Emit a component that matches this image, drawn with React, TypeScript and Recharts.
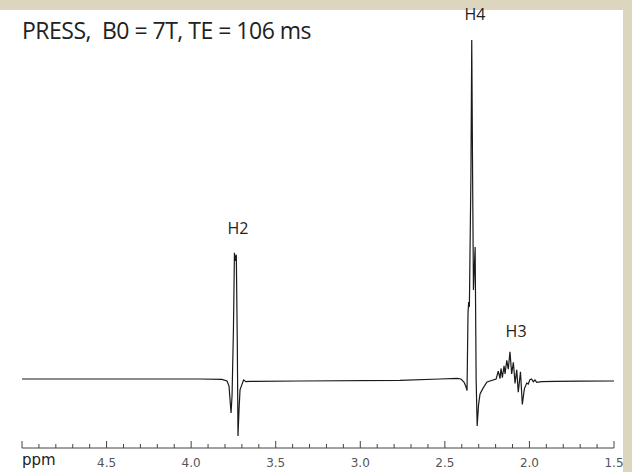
import { LineChart, Line, XAxis, YAxis, ReferenceDot } from "recharts";

// spectrum: chemical shift (ppm) and signal (H4 top = 100)
const PPM = [
  5.0, 3.948, 3.818, 3.788, 3.776, 3.77, 3.764, 3.758, 3.75, 3.744, 3.738, 3.733,
  3.727, 3.723, 3.717, 3.711, 3.699, 3.69, 3.676, 3.652, 3.356, 2.765, 2.529, 2.428,
  2.405, 2.387, 2.375, 2.369, 2.363, 2.359, 2.355, 2.346, 2.341, 2.336, 2.331, 2.321,
  2.315, 2.309, 2.301, 2.292, 2.274, 2.251, 2.197, 2.184, 2.174, 2.168, 2.16, 2.15,
  2.144, 2.134, 2.125, 2.115, 2.105, 2.095, 2.085, 2.075, 2.066, 2.053, 2.042, 2.03,
  2.016, 2.007, 1.997, 1.987, 1.977, 1.967, 1.957, 1.927, 1.849, 1.701, 1.5
];
const SIGNAL = [
  0.3, 0.3, 0.2, -0.3, -1.8, -5.9, -9.7, -4.4, 14.7, 37.4, 35, 36.8,
  10, -16.5, -8.8, -2.9, -1.2, 0, -0.5, -0.4, -0.3, -0.1, 0.3, 0.5,
  0.3, -0.6, -2.0, -3.1, 20, 22.9, 21.5, 60, 100, 60, 26.5, 39.1,
  0, -13.5, -7.4, -4.1, -2.4, -0.6, 0.3, 2.6, 0.4, 3.4, 0.7, 4.2,
  1.8, 5.8, 3.2, 8.3, 1.8, 5.2, -1.0, 3.0, -3.6, 2.4, -7.2, -2.6,
  -0.9, -1.2, 0.1, 0.3, -0.5, 0, -0.7, -0.5, -0.4, -0.35, -0.3
];

const TICKS = [
  5.0, 4.9, 4.8, 4.7, 4.6, 4.5, 4.4, 4.3, 4.2, 4.1, 4.0, 3.9, 3.8, 3.7, 3.6, 3.5,
  3.4, 3.3, 3.2, 3.1, 3.0, 2.9, 2.8, 2.7, 2.6, 2.5, 2.4, 2.3, 2.2, 2.1, 2.0, 1.9,
  1.8, 1.7, 1.6, 1.5
];
const MAJOR_TICKS = [5.0, 4.5, 4.0, 3.5, 3.0, 2.5, 2.0, 1.5];
const TICK_LABELS = ["ppm", "4.5", "4.0", "3.5", "3.0", "2.5", "2.0", "1.5"];

const PEAK_NAMES = ["H2", "H4", "H3"];
const PEAK_PPM = [3.723, 2.322, 2.079];
const PEAK_LABEL_Y = [42.9, 105.9, 12.6];

const data = PPM.map((ppm, i) => ({ ppm, signal: SIGNAL[i] }));

function PpmTick(props: any) {
  const { x, y, payload } = props;
  const v = payload.value;
  const idx = MAJOR_TICKS.findIndex((m) => Math.abs(m - v) < 1e-6);
  const major = idx >= 0;
  const label = major ? TICK_LABELS[idx] : null;
  return (
    <g>
      <line x1={x} x2={x} y1={y} y2={y - (major ? 7 : 4)} stroke="#444" strokeWidth={1} />
      {label === "ppm" && (
        <text x={x} y={y + 17} textAnchor="start" fontFamily="DejaVu Sans" fontSize={15} fill="#222">
          ppm
        </text>
      )}
      {label && label !== "ppm" && (
        <text x={x} y={y + 19} textAnchor="middle" fontFamily="DejaVu Sans" fontSize={12} fill="#555">
          {label}
        </text>
      )}
    </g>
  );
}

export default function App() {
  return (
    <div
      style={{
        position: "absolute",
        left: 0,
        top: 0,
        width: 632,
        height: 472,
        background: "#ddd6bf",
      }}
    >
      <div
        style={{
          position: "absolute",
          left: 0,
          top: 10,
          width: 623,
          height: 462,
          background: "#ffffff",
        }}
      />
      <div
        style={{
          position: "absolute",
          left: 22,
          top: 14,
          fontFamily: "Open Sans",
          fontSize: 23,
          letterSpacing: -0.5,
          color: "#222",
          whiteSpace: "nowrap",
          lineHeight: "32px",
        }}
      >
        PRESS,&nbsp; B0 = 7T, TE = 106 ms
      </div>
      <div style={{ position: "absolute", left: 0, top: 0 }}>
        <LineChart width={632} height={472} data={data} margin={{ top: 40, right: 18, bottom: 0, left: 22 }}>
          <XAxis
            dataKey="ppm"
            type="number"
            domain={[1.5, 5]}
            reversed
            ticks={TICKS}
            interval={0}
            height={24}
            tickLine={false}
            tickSize={0}
            tickMargin={0}
            axisLine={{ stroke: "#444", strokeWidth: 1 }}
            tick={<PpmTick />}
            allowDataOverflow
          />
          <YAxis hide type="number" domain={[-20, 100]} allowDataOverflow />
          <Line
            type="linear"
            dataKey="signal"
            stroke="#1a1a1a"
            strokeWidth={1.2}
            dot={false}
            isAnimationActive={false}
          />
          {PEAK_NAMES.map((name, i) => (
            <ReferenceDot
              key={name}
              x={PEAK_PPM[i]}
              y={PEAK_LABEL_Y[i]}
              r={0}
              fill="none"
              stroke="none"
              ifOverflow="visible"
              label={{
                value: name,
                position: "center",
                fontFamily: "Open Sans",
                fontSize: 16,
                fill: "#222",
                dy: -6,
              }}
            />
          ))}
        </LineChart>
      </div>
    </div>
  );
}
